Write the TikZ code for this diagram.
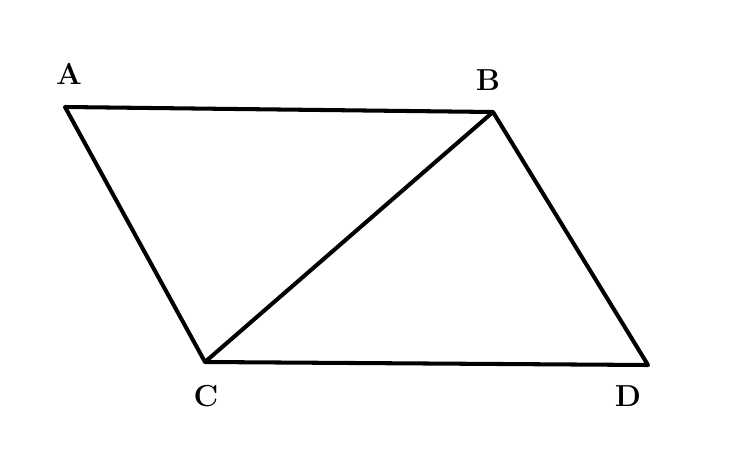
\documentclass[tikz,border=0pt]{standalone}
\usepackage{tikz}

\begin{document}
\begin{tikzpicture}[x=0.02cm, y=-0.02cm, every node/.style={font=\bfseries\LARGE}]
            \useasboundingbox (0,0) rectangle (737,470);
            
            % Corners
            \coordinate (a) at (65,107);
            \coordinate (b) at (493,112);
            \coordinate (c) at (205,362);
            \coordinate (d) at (648,365);
            
            % Labels
            \node (la) at (69,74) {A};
            \node (lb) at (488,80) {B};
            \node (lc) at (206,396) {C};
            \node (ld) at (628,396) {D};
            
            % Parallelogram and diagonal
            \draw[line width=2.3pt, line join=round] (a) -- (b) -- (d) -- (c) -- cycle;
            \draw[line width=2.3pt] (b) -- (c);
        \end{tikzpicture}
\end{document}
